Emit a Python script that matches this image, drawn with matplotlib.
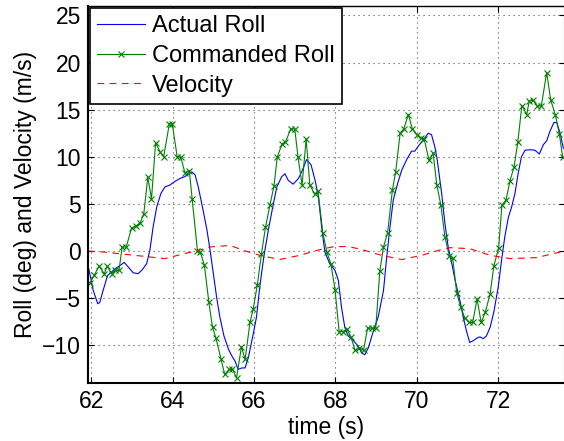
import matplotlib
matplotlib.use("Agg")
import matplotlib.pyplot as plt

plt.rcParams['font.family'] = ['Liberation Sans', 'DejaVu Sans']

# Commanded roll (deg), sampled points with markers
t_cmd = [61.97, 62.07, 62.19, 62.32, 62.39, 62.50, 62.58, 62.68, 62.76, 62.86,
         62.99, 63.09, 63.20, 63.29, 63.39, 63.48, 63.58, 63.70, 63.78, 63.92,
         63.99, 64.11, 64.20, 64.30, 64.41, 64.48, 64.61, 64.68, 64.78, 64.89,
         64.98, 65.06, 65.19, 65.28, 65.39, 65.47, 65.57, 65.69, 65.78, 65.90,
         65.98, 66.08, 66.18, 66.28, 66.39, 66.49, 66.57, 66.69, 66.77, 66.90,
         67.00, 67.08, 67.18, 67.28, 67.37, 67.49, 67.57, 67.69, 67.79, 67.89,
         67.99, 68.09, 68.18, 68.28, 68.38, 68.48, 68.59, 68.69, 68.79, 68.89,
         68.99, 69.09, 69.18, 69.28, 69.40, 69.48, 69.59, 69.68, 69.79, 69.89,
         70.00, 70.10, 70.18, 70.30, 70.40, 70.49, 70.59, 70.69, 70.80, 70.88,
         70.98, 71.08, 71.18, 71.29, 71.37, 71.48, 71.58, 71.68, 71.80, 71.89,
         72.01, 72.09, 72.19, 72.29, 72.39, 72.48, 72.58, 72.70, 72.76, 72.86,
         72.96, 73.06, 73.19, 73.29, 73.40, 73.50, 73.58]
cmd = [-3.38, -2.59, -1.60, -2.41, -1.60, -2.41, -2.06, -2.06, 0.43, 0.43,
       2.45, 2.64, 2.99, 3.92, 7.83, 5.52, 11.46, 10.46, 10.03, 13.52,
       13.52, 10.03, 9.96, 8.32, 8.54, 5.49, 0.0, -0.1, -1.53, -5.44,
       -8.11, -9.18, -11.49, -13.09, -12.56, -12.56, -13.45, -10.17, -11.49, -7.58,
       -6.15, -3.59, -0.35, 2.50, 4.88, 6.91, 9.97, 11.39, 11.53, 12.96,
       12.96, 9.97, 7.01, 11.89, 7.01, 6.05, 6.40, 1.92, -0.1, -1.42,
       -4.12, -8.54, -8.54, -8.28, -9.10, -10.52, -10.25, -10.52, -8.18, -8.18,
       -8.18, -2.13, 0.43, 1.92, 6.48, 8.43, 12.53, 12.96, 14.48, 12.96,
       12.35, 12.0, 11.89, 9.61, 10.39, 7.01, 4.88, 1.49, -0.57, -0.71,
       -4.48, -5.98, -7.11, -7.58, -7.58, -5.08, -7.58, -6.51, -4.55, -1.63,
       0.36, 4.88, 5.41, 7.47, 8.96, 11.53, 15.44, 14.48, 15.90, 16.01,
       15.37, 15.44, 18.93, 16.01, 14.48, 12.45, 10.03]

# Actual roll (deg)
t_act = [61.94, 62.05, 62.16, 62.21, 62.29, 62.40, 62.58, 62.75, 62.81, 62.91,
         63.03, 63.15, 63.25, 63.36, 63.44, 63.52, 63.61, 63.71, 63.81, 63.93,
         64.06, 64.18, 64.30, 64.47, 64.55, 64.63, 64.74, 64.84, 64.92, 65.00,
         65.08, 65.16, 65.26, 65.37, 65.45, 65.53, 65.61, 65.70, 65.78, 65.86,
         65.98, 66.06, 66.14, 66.24, 66.35, 66.46, 66.56, 66.68, 66.76, 66.84,
         66.96, 67.09, 67.17, 67.29, 67.40, 67.50, 67.58, 67.66, 67.74, 67.86,
         67.99, 68.07, 68.15, 68.23, 68.31, 68.44, 68.56, 68.64, 68.72, 68.81,
         68.93, 69.05, 69.18, 69.26, 69.34, 69.42, 69.53, 69.63, 69.75, 69.87,
         69.95, 70.03, 70.16, 70.28, 70.36, 70.44, 70.50, 70.61, 70.69, 70.77,
         70.86, 70.94, 71.06, 71.14, 71.22, 71.30, 71.39, 71.47, 71.55, 71.63,
         71.71, 71.80, 71.89, 72.00, 72.08, 72.16, 72.25, 72.33, 72.41, 72.49,
         72.57, 72.66, 72.78, 72.90, 73.01, 73.11, 73.19, 73.27, 73.37, 73.44,
         73.52, 73.60]
act = [-1.9, -4.2, -5.6, -5.44, -4.2, -2.6, -1.9, -1.4, -1.2, -1.7,
       -2.3, -2.4, -2.0, -1.35, 0.07, 2.56, 4.7, 6.1, 6.8, 7.0,
       7.4, 7.7, 7.9, 8.4, 8.1, 6.8, 4.5, 2.3, 0.07, -2.4,
       -4.9, -7.0, -9.0, -10.4, -11.1, -11.66, -12.55, -12.4, -12.4, -11.3,
       -8.8, -7.0, -3.8, -0.6, 2.2, 4.7, 6.8, 7.9, 8.2, 7.5,
       7.1, 7.7, 8.4, 9.7, 9.15, 7.5, 5.8, 2.56, -0.1, -1.35,
       -2.06, -3.1, -6.0, -8.1, -9.0, -9.5, -10.1, -10.8, -11.0, -10.25,
       -8.5, -7.0, -4.2, -0.6, 2.56, 5.4, 7.2, 8.6, 9.7, 10.6,
       10.6, 11.1, 11.8, 12.5, 12.35, 11.1, 9.7, 6.1, 2.9, 0.43,
       -1.35, -3.1, -5.3, -7.0, -8.5, -9.7, -9.5, -9.25, -9.1, -9.3,
       -9.0, -8.1, -6.5, -3.8, -1.0, 1.49, 3.6, 4.7, 6.1, 8.26,
       10.0, 10.7, 10.75, 10.7, 10.3, 11.3, 11.7, 12.7, 13.66, 13.6,
       12.5, 10.9]

# Velocity (m/s)
t_vel = [61.92, 62.3, 62.83, 63.32, 63.81, 64.22, 64.63, 64.92, 65.41, 65.74,
         66.14, 66.63, 67.13, 67.54, 67.91, 68.31, 68.72, 69.13, 69.63, 70.12,
         70.53, 70.81, 71.30, 71.80, 72.29, 72.94, 73.52, 73.64]
vel = [0.0, -0.1, -0.35, -0.57, -0.8, -0.35, 0.07, 0.43, 0.6, 0.07,
       -0.45, -0.9, -0.45, 0.07, 0.43, 0.5, 0.07, -0.45, -0.9, -0.45,
       0.07, 0.36, 0.25, -0.45, -0.8, -0.7, -0.1, 0.05]

fig = plt.figure(figsize=(5.64, 4.41), dpi=100)
ax = fig.add_axes([88 / 564, 58 / 441, 477 / 564, 377 / 441])

ax.plot(t_act, act, color='#0000ff', lw=0.8, label='Actual Roll')
ax.plot(t_cmd, cmd, color='#008000', lw=0.8, marker='x', ms=5, mew=0.8,
        label='Commanded Roll')
ax.plot(t_vel, vel, color='#ff0000', lw=0.8, ls=(0, (6, 5)), label='Velocity')

ax.set_xlim(61.92, 73.64)
ax.set_ylim(-14, 26)
ax.set_xticks([62, 64, 66, 68, 70, 72])
ax.set_yticks([-10, -5, 0, 5, 10, 15, 20, 25])
ax.tick_params(direction='in', length=4, width=0.8, labelsize=16.5,
               top=True, right=True, pad=5)
ax.grid(True, color='0.3', ls=(0, (1, 3.5)), lw=0.8)
for s in ax.spines.values():
    s.set_linewidth(1.5)
ax.spines['top'].set_linewidth(1.0)

ax.set_xlabel('time (s)', fontsize=16.5, labelpad=2)
ax.set_ylabel('Roll (deg) and Velocity (m/s)', fontsize=16.5, labelpad=4)

leg = ax.legend(loc='upper left', fontsize=17, fancybox=False, framealpha=1,
                edgecolor='black', borderaxespad=0.1, handlelength=2.0,
                handletextpad=0.3, labelspacing=0.32, borderpad=0.3)
leg.get_frame().set_linewidth(1.2)

fig.savefig('out.png', dpi=100)
